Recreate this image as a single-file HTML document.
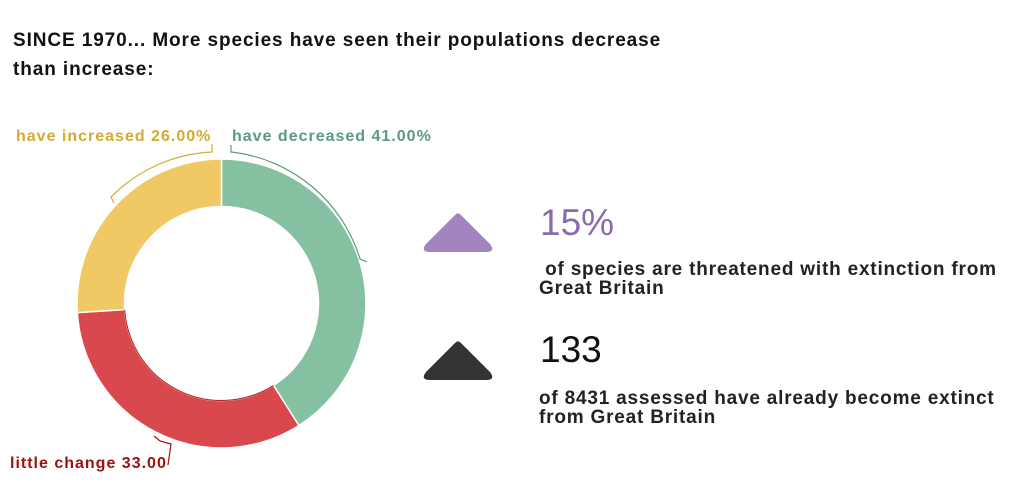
<!DOCTYPE html>
<html><head><style>
body{margin:0;width:1024px;height:496px;background:#fff;font-family:"Liberation Sans",sans-serif;position:relative;overflow:hidden}
.t{position:absolute;left:13px;top:26px;font-size:19px;letter-spacing:0.9px;font-weight:bold;color:#111;line-height:29px}
.big{position:absolute;left:540px;font-size:37px;line-height:40px}
.d{position:absolute;left:539px;font-size:19px;letter-spacing:0.8px;font-weight:bold;color:#222;line-height:19px}
.l{position:absolute;font-size:16px;font-weight:bold;letter-spacing:1px}
</style></head><body>
<div class="t">SINCE 1970... More species have seen their populations decrease<br>than increase:</div>
<svg width="1024" height="496" style="position:absolute;left:0;top:0">
<path d="M221.5,159 A144.5,144.5 0 0 1 298.9,425.5 L273.5,385.4 A97,97 0 0 0 221.5,206.5 Z" fill="#85c1a0" stroke="#fff" stroke-width="1.5"/>
<path d="M298.9,425.5 A144.5,144.5 0 0 1 77.3,312.6 L124.7,309.6 A97,97 0 0 0 273.5,385.4 Z" fill="#d8484c" stroke="#fff" stroke-width="1.5"/>
<path d="M77.3,312.6 A144.5,144.5 0 0 1 221.5,159 L221.5,206.5 A97,97 0 0 0 124.7,309.6 Z" fill="#f0c864" stroke="#fff" stroke-width="1.5"/>
<path d="M124.7,309.6 A97,97 0 0 0 273.5,385.4" fill="none" stroke="#b01a1a" stroke-width="1"/>
<path d="M231,145 L231,152 A152,152 0 0 1 360,259 L367,262" fill="none" stroke="#5a9a80" stroke-width="1.2"/>
<path d="M212,144 L212,152 A152,152 0 0 0 111,197 L114,203" fill="none" stroke="#d4aa30" stroke-width="1.2"/>
<path d="M154,436 L160,441 L171,444 L168,465" fill="none" stroke="#a01010" stroke-width="1.2"/>
<path d="M458,214 Q458,212 462,216 L490,244 Q496,252 486,252 L430,252 Q420,252 426,244 L454,216 Q458,212 458,214Z" fill="#a383c0"/>
<path d="M458,342 Q458,340 462,344 L490,372 Q496,380 486,380 L430,380 Q420,380 426,372 L454,344 Q458,340 458,342Z" fill="#333"/>
</svg>
<div class="l" style="left:16px;top:128px;color:#d4aa30">have increased 26.00%</div>
<div class="l" style="left:232px;top:128px;color:#5a9a80">have decreased 41.00%</div>
<div class="l" style="left:10px;top:455px;color:#a01010">little change 33.00</div>
<div class="big" style="top:203px;color:#8a6bb0">15%</div>
<div class="d" style="top:260px">&nbsp;of species are threatened with extinction from<br>Great Britain</div>
<div class="big" style="top:330px;color:#111">133</div>
<div class="d" style="top:389px">of 8431 assessed have already become extinct<br>from Great Britain</div>
</body></html>
